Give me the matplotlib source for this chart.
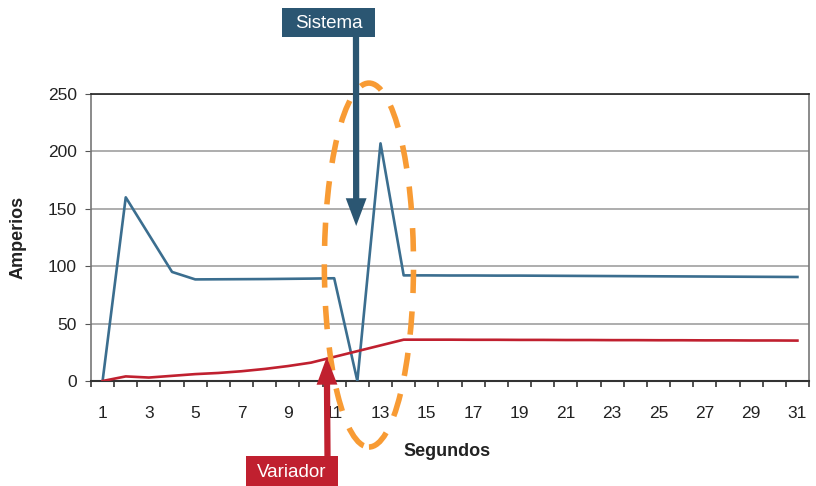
import matplotlib
matplotlib.use("Agg")
import matplotlib.pyplot as plt
from matplotlib.patches import Ellipse, Rectangle

# Current draw over time (seconds 1..31)
segundos = list(range(1, 32))
sistema = [0, 160, 127.5, 95, 88.5, 88.6, 88.7, 88.8, 89.0, 89.2, 89.5, 0, 207,
           92, 92, 91.9, 91.9, 91.8, 91.8, 91.7, 91.6, 91.5, 91.4, 91.3, 91.2,
           91.1, 91.0, 90.9, 90.8, 90.7, 90.6]
variador = [0, 4, 3, 4.5, 6, 7, 8.5, 10.5, 13, 16, 21, 26, 31,
            36, 36, 36, 35.9, 35.9, 35.8, 35.8, 35.7, 35.7, 35.6, 35.6, 35.5,
            35.5, 35.4, 35.4, 35.3, 35.3, 35.2]
y_ticks = [0, 50, 100, 150, 200, 250]
x_labels = [str(s) for s in segundos if s % 2 == 1]

BLUE = "#3b6e8f"
RED = "#c0202f"
DARK_BLUE = "#2b5672"
ORANGE = "#f89b34"
TXT = "#222222"

plt.rcParams["font.family"] = ["Liberation Sans", "DejaVu Sans"]

W, H = 816, 486
fig = plt.figure(figsize=(W / 100, H / 100), dpi=100)
ax = fig.add_axes([91 / W, 1 - 381 / H, 718 / W, 287 / H])


def fx(px):
    return px / W


def fy(py):
    return 1 - py / H


ax.plot(segundos, sistema, color=BLUE, lw=1.9, zorder=3)
ax.plot(segundos, variador, color=RED, lw=1.9, zorder=3)

ax.set_xlim(0.5, 31.5)
ax.set_ylim(0, 250)

# y grid
ax.set_yticks(y_ticks)
ax.yaxis.grid(True, color="#a0a0a0", lw=1.2)
ax.set_axisbelow(True)
ax.tick_params(axis="y", direction="out", length=4, color="#555555",
               labelsize=12.5, pad=6, labelcolor=TXT)

# x axis: tick marks between categories, labels at odd seconds
ax.set_xticks([s for s in segundos if s % 2 == 1])
ax.set_xticklabels(x_labels)
ax.set_xticks([s + 0.5 for s in range(0, 32)], minor=True)
ax.tick_params(axis="x", which="major", length=0, labelsize=12.5, pad=18,
               labelcolor=TXT)
ax.tick_params(axis="x", which="minor", direction="out", length=4.5,
               color="#333333", width=1.2)

for side in ["left", "right"]:
    ax.spines[side].set_color("#777777")
    ax.spines[side].set_linewidth(1.2)
ax.spines["bottom"].set_color("#333333")
ax.spines["bottom"].set_linewidth(1.5)
ax.spines["top"].set_color("#222222")
ax.spines["top"].set_linewidth(1.2)

fig.text(fx(18), fy(237), "Amperios", fontsize=13, fontweight="bold",
         color=TXT, rotation=90, ha="center", va="center")
fig.text(fx(403), fy(451), "Segundos", fontsize=13, fontweight="bold",
         color=TXT, ha="left", va="center")

# Dashed highlight around the transient
ell = Ellipse((12.5, 101), 3.85, 317, fill=False, edgecolor=ORANGE, lw=4,
              linestyle=(0, (4.2, 3.3)), clip_on=False, zorder=5)
ax.add_patch(ell)


def callout(x0, y0, x1, y1, text, color):
    fig.patches.append(Rectangle((fx(x0), fy(y1)), fx(x1) - fx(x0),
                                 fy(y0) - fy(y1), transform=fig.transFigure,
                                 facecolor=color, edgecolor="none", zorder=6))
    fig.text(fx((x0 + x1) / 2), fy((y0 + y1) / 2 + 1), text, fontsize=13.5,
             color="white", ha="center", va="center", zorder=7)


ARROW = "simple,head_length=2.0,head_width=1.5,tail_width=0.45"

# Sistema callout
callout(282, 8, 375, 37, "Sistema", DARK_BLUE)
ax.annotate("", xy=(11.95, 135), xytext=(fx(356), fy(37)),
            textcoords="figure fraction",
            arrowprops=dict(arrowstyle=ARROW, mutation_scale=10, fc=DARK_BLUE,
                            ec="none", shrinkA=0, shrinkB=0),
            annotation_clip=False, zorder=6)

# Variador callout
callout(246, 456, 338, 487, "Variador", RED)
ax.annotate("", xy=(10.68, 21), xytext=(fx(327.5), fy(456)),
            textcoords="figure fraction",
            arrowprops=dict(arrowstyle=ARROW, mutation_scale=10, fc=RED,
                            ec="none", shrinkA=0, shrinkB=0),
            annotation_clip=False, zorder=6)

fig.savefig("out.png", dpi=100)
